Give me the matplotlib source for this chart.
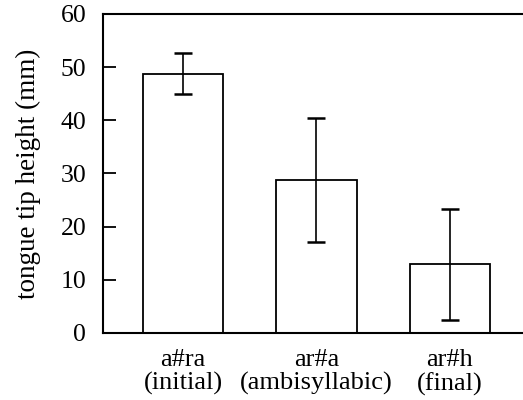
import matplotlib.pyplot as plt

# data
labels = ['a#ra\n(initial)', 'ar#a\n(ambisyllabic)', 'ar#h\n(final)']
heights = [48.8, 28.8, 12.9]
err_low = [44.9, 17.0, 2.4]
err_high = [52.7, 40.4, 23.3]

plt.rcParams['font.family'] = ['Liberation Serif', 'DejaVu Serif']

fig = plt.figure(figsize=(5.23, 4.0), dpi=100)
ax = fig.add_axes([0.197, 0.168, 0.801, 0.797])

x = list(range(len(labels)))
yerr = [[h - lo for h, lo in zip(heights, err_low)],
        [hi - h for h, hi in zip(heights, err_high)]]

# bars with error bars
ax.bar(x, heights, width=0.6, color='white', edgecolor='black', linewidth=1.3)
ax.errorbar(x, heights, yerr=yerr, fmt='none', ecolor='black',
            elinewidth=1.2, capsize=6.5, capthick=1.8)

ax.set_xlim(-0.6, 2.54)
ax.set_ylim(0, 60)
ax.set_yticks([0, 10, 20, 30, 40, 50, 60])
ax.set_xticks(x)
ax.set_xticklabels(labels, fontsize=19, linespacing=1.05)

ax.spines['right'].set_visible(False)
for s in ['left', 'top', 'bottom']:
    ax.spines[s].set_linewidth(1.5)

ax.tick_params(axis='y', direction='in', length=9.5, width=1.3, labelsize=18.5, pad=12)
ax.tick_params(axis='x', length=0, pad=12)

ax.set_ylabel('tongue tip height (mm)', fontsize=19.5, labelpad=14)

plt.savefig('out.png', dpi=100)
